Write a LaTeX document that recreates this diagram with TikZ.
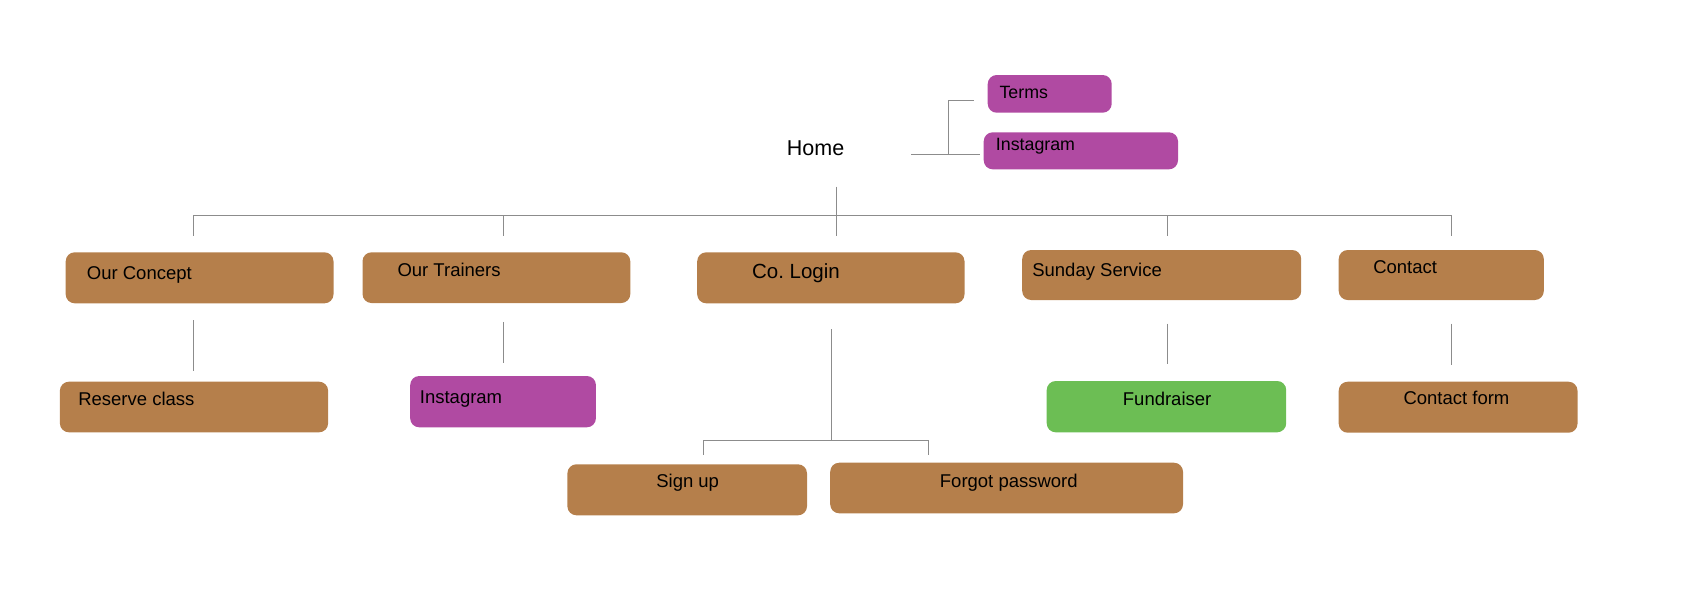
\documentclass[tikz,border=0pt]{standalone}
\usepackage{fontspec}
\setmainfont{Liberation Sans}
\usepackage{tikz}
\usetikzlibrary{positioning,calc}

\definecolor{sitebrown}{RGB}{181,127,75}
\definecolor{sitepurple}{RGB}{176,74,162}
\definecolor{sitegreen}{RGB}{108,190,84}

\begin{document}
\begin{tikzpicture}[
    x=1pt, y=-1pt,
    page/.style={rounded corners=9pt, inner sep=0pt},
    pagebrown/.style={page, fill=sitebrown},
    pagepurple/.style={page, fill=sitepurple},
    pagegreen/.style={page, fill=sitegreen},
    lbl/.style={anchor=base west, inner sep=0pt, font=\fontsize{18.5}{22}\selectfont},
    link/.style={draw=black!45, line width=0.9pt}
  ]
  \useasboundingbox (0,0) rectangle (1684,590);

  % top
  \node[lbl, font=\fontsize{21.5}{26}\selectfont] (home) at (786.7,155) {Home};
  \node[pagepurple, minimum width=124pt, minimum height=37.7pt] (terms) at (1049.7,93.85) {};
  \node[lbl, font=\fontsize{17.8}{21}\selectfont] (termslbl) at (999.3,98) {Terms};
  \node[pagepurple, minimum width=194.3pt, minimum height=37pt] (insta1) at (1080.85,150.8) {};
  \node[lbl, font=\fontsize{17.8}{21}\selectfont] (insta1lbl) at (995.7,150.5) {Instagram};

  % first level
  \node[pagebrown, minimum width=267.8pt, minimum height=51pt] (concept) at (199.6,277.8) {};
  \node[lbl] (conceptlbl) at (86.7,279.5) {Our Concept};
  \node[pagebrown, minimum width=267.8pt, minimum height=50.7pt] (trainers) at (496.4,277.65) {};
  \node[lbl] (trainerslbl) at (397.3,276.3) {Our Trainers};
  \node[pagebrown, minimum width=267.3pt, minimum height=51pt] (login) at (830.85,277.8) {};
  \node[lbl, font=\fontsize{20.5}{24}\selectfont] (loginlbl) at (751.9,278.5) {Co.\ Login};
  \node[pagebrown, minimum width=279pt, minimum height=50pt] (sunday) at (1161.7,275) {};
  \node[lbl] (sundaylbl) at (1032.1,276.3) {Sunday Service};
  \node[pagebrown, minimum width=205.1pt, minimum height=50pt] (contact) at (1441.25,275) {};
  \node[lbl] (contactlbl) at (1373.1,273) {Contact};

  % second level
  \node[pagebrown, minimum width=268.2pt, minimum height=50.6pt] (reserve) at (194,407) {};
  \node[lbl] (reservelbl) at (78.1,405.6) {Reserve class};
  \node[pagepurple, minimum width=185.7pt, minimum height=51.3pt] (insta2) at (503.05,401.65) {};
  \node[lbl] (insta2lbl) at (419.7,403) {Instagram};
  \node[pagegreen, minimum width=239.5pt, minimum height=51.3pt] (fund) at (1166.45,406.65) {};
  \node[lbl] (fundlbl) at (1122.7,405.2) {Fundraiser};
  \node[pagebrown, minimum width=238.8pt, minimum height=51pt] (cform) at (1458.1,407.2) {};
  \node[lbl] (cformlbl) at (1403.3,404.8) {Contact form};

  % login children
  \node[pagebrown, minimum width=239.6pt, minimum height=51pt] (signup) at (687.2,489.8) {};
  \node[lbl] (signuplbl) at (656.1,487.3) {Sign up};
  \node[pagebrown, minimum width=352.8pt, minimum height=50.6pt] (forgot) at (1006.6,488) {};
  \node[lbl] (forgotlbl) at (939.7,487.3) {Forgot password};

  % home to side pages
  \coordinate (homeout) at (911.3,154);
  \coordinate (homej) at (948.7,154);
  \coordinate (termsj) at (948.7,100.7);
  \draw[link, shorten >=3.7pt] (homeout) -- (homeout -| insta1.west);
  \draw[link, shorten >=13.4pt] (homej) -- (termsj) -- (termsj -| terms.west);

  % main bus
  \coordinate (bus1) at (193.4,215.3);
  \coordinate (bus2) at (503.3,215.3);
  \coordinate (bus3) at (836.7,215.3);
  \coordinate (bus4) at (1167,215.3);
  \coordinate (bus5) at (1451.5,215.3);
  \coordinate (hometap) at (836.7,186.7);
  \draw[link] (bus1) -- (bus5);
  \draw[link, shorten >=16.3pt] (hometap) -- (hometap |- login.north);
  \foreach \b/\n/\s in {bus1/concept/16.3pt, bus2/trainers/16.3pt, bus4/sunday/14pt, bus5/contact/14pt}
    \draw[link, shorten >=\s] (\b) -- (\b |- \n.north);

  % drops to second level
  \draw[link, shorten <=16.7pt, shorten >=11pt] (bus1 |- concept.south) -- (bus1 |- reserve.north);
  \draw[link, shorten <=18.7pt, shorten >=12.7pt] (bus2 |- trainers.south) -- (bus2 |- insta2.north);
  \draw[link, shorten <=23.3pt, shorten >=17pt] (bus4 |- sunday.south) -- (bus4 |- fund.north);
  \draw[link, shorten <=23.3pt, shorten >=16.7pt] (bus5 |- contact.south) -- (bus5 |- cform.north);

  % login branch
  \coordinate (loginj) at (831.5,440);
  \coordinate (signj) at (703.4,440);
  \coordinate (forgotj) at (928.5,440);
  \draw[link, shorten <=25.7pt] (loginj |- login.south) -- (loginj);
  \draw[link] (signj) -- (forgotj);
  \draw[link, shorten >=9pt] (signj) -- (signj |- signup.north);
  \draw[link, shorten >=7.4pt] (forgotj) -- (forgotj |- forgot.north);
\end{tikzpicture}
\end{document}
